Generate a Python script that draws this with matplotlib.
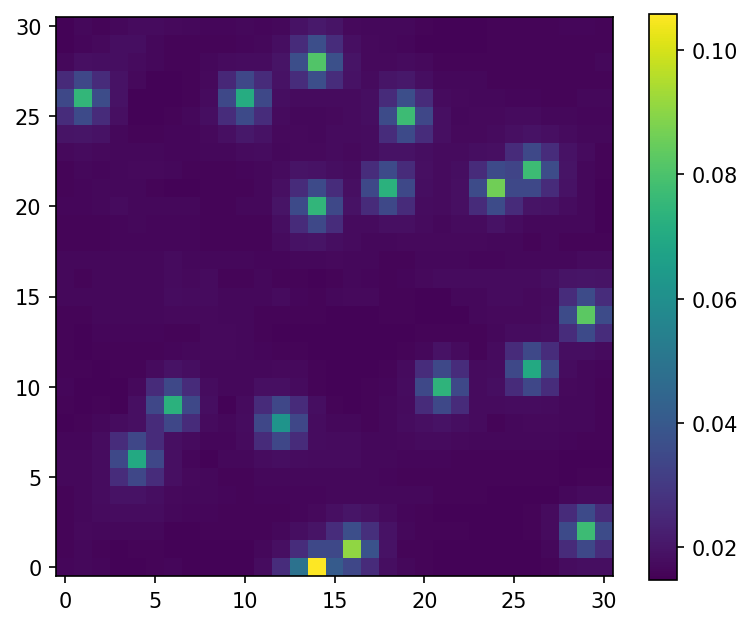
import numpy as np
import matplotlib
matplotlib.use('Agg')
import matplotlib.pyplot as plt

# cell values in units of 1e-4, first row is y=30, last row is y=0
rows = [
    [155,165,160,168,175,175,170,165,162,162,165,162,168,190,210,195,170,165,165,165,160,155,155,155,158,158,158,160,162,162,158],
    [155,162,170,180,180,165,158,158,158,160,162,165,182,258,365,262,185,170,165,162,156,155,155,155,158,158,158,158,160,160,158],
    [165,185,182,182,175,165,158,158,165,175,178,178,195,365,810,370,195,170,170,172,170,160,158,158,158,158,158,158,158,160,165],
    [255,340,258,190,170,156,155,160,170,250,340,258,190,262,365,262,190,175,200,205,180,168,168,165,158,158,158,158,158,158,158],
    [345,750,360,190,156,156,155,160,175,345,710,345,180,175,175,172,172,180,258,365,258,175,170,165,165,162,162,160,160,165,165],
    [262,350,258,185,156,155,158,165,180,262,350,262,175,165,165,170,172,180,355,770,340,185,168,170,170,172,172,165,165,162,162],
    [195,200,190,165,158,158,162,162,170,185,205,190,170,170,165,172,172,178,262,350,262,185,170,170,175,185,190,185,172,165,165],
    [170,172,170,165,165,165,162,162,165,165,175,178,168,170,170,172,170,178,190,190,180,172,172,180,185,258,345,262,190,172,158],
    [160,165,162,165,170,170,165,158,158,158,162,168,175,195,190,180,178,262,350,258,185,175,180,258,350,335,770,360,195,168,158],
    [160,162,165,165,165,160,156,156,158,158,158,165,185,258,350,262,185,345,730,345,180,175,185,355,860,345,345,258,190,165,156],
    [162,162,168,172,165,165,165,165,160,160,165,168,195,350,745,345,190,258,345,258,178,172,185,258,355,258,195,190,178,165,156],
    [160,160,160,162,168,162,162,162,160,160,160,160,180,258,345,262,175,175,185,185,172,165,172,175,190,178,168,165,165,165,156],
    [160,160,160,162,162,162,162,162,160,160,160,158,175,190,195,180,175,165,165,170,170,170,170,170,165,165,160,165,160,160,160],
    [165,165,165,165,165,165,175,165,165,165,165,162,162,165,165,170,165,165,158,158,165,168,165,162,162,165,165,168,168,172,172],
    [165,158,165,165,165,165,172,170,172,158,158,165,160,158,156,160,165,162,158,162,170,172,172,172,172,172,172,182,195,200,195],
    [165,165,168,168,168,168,178,175,175,165,165,168,172,162,158,165,170,170,160,158,156,156,165,168,172,172,170,172,262,355,262],
    [158,158,165,165,165,165,170,170,170,165,165,160,160,160,158,156,156,156,158,158,156,156,156,165,170,170,170,178,355,830,355],
    [160,156,162,162,162,162,158,160,170,170,165,158,156,156,156,156,156,156,156,156,158,158,160,158,165,178,178,180,262,350,262],
    [158,156,160,160,160,160,162,165,170,170,165,162,158,158,156,156,156,156,156,158,165,190,175,160,172,258,345,262,180,180,175],
    [160,160,156,160,160,175,190,182,168,168,168,168,170,170,158,156,156,156,158,175,262,345,262,172,178,345,700,340,178,165,162],
    [162,156,155,155,170,258,345,258,178,168,168,185,185,172,160,156,156,158,162,178,345,740,345,175,182,258,340,262,170,165,160],
    [158,156,158,156,185,340,730,345,182,156,175,258,340,258,180,158,156,158,168,172,258,345,258,172,172,178,178,172,168,165,160],
    [156,160,168,178,185,258,340,258,175,168,178,340,620,340,178,168,165,160,168,178,185,190,180,172,160,168,170,170,165,165,160],
    [162,162,178,262,340,258,185,175,162,162,172,258,340,258,178,175,172,168,168,170,172,172,170,165,165,168,168,165,162,160,160],
    [165,165,178,345,700,340,185,162,156,165,165,178,182,178,172,172,172,168,165,162,162,162,160,160,160,160,160,158,156,156,156],
    [165,165,178,262,340,262,185,170,165,160,160,165,165,165,165,165,165,165,162,160,160,160,160,160,160,160,160,158,156,158,158],
    [160,168,178,190,190,182,170,165,165,162,160,162,162,162,162,165,165,165,165,168,165,160,160,158,156,156,156,156,165,172,175],
    [160,165,175,178,178,178,165,162,162,160,158,160,160,162,170,185,200,188,172,162,160,156,156,156,156,156,158,172,258,350,258],
    [160,170,165,165,165,165,156,156,158,160,158,160,165,180,195,262,365,270,190,165,160,158,158,156,156,156,158,172,350,770,355],
    [160,165,160,156,158,160,156,156,156,156,156,165,185,262,345,345,905,375,190,160,158,156,156,156,156,156,156,165,260,345,262],
    [162,165,162,156,156,158,162,156,156,156,156,178,262,490,1058,410,340,258,180,168,158,156,156,156,156,156,156,160,178,182,182],
]

vmin = 0.0147
vmax = 0.1058

data = np.array(rows)[::-1] * 1e-4

fig = plt.figure(figsize=(753 / 150, 626 / 150), dpi=150)
ax = fig.add_axes([56 / 753, 1 - 577 / 626, 557 / 753, 559 / 626])
im = ax.imshow(data, cmap='viridis', origin='lower', vmin=vmin, vmax=vmax, aspect='auto')
ax.set_xticks([0, 5, 10, 15, 20, 25, 30])
ax.set_yticks([0, 5, 10, 15, 20, 25, 30])

cax = fig.add_axes([649 / 753, 1 - 581 / 626, 28 / 753, 566 / 626])
cbar = fig.colorbar(im, cax=cax)
cbar.set_ticks([0.02, 0.04, 0.06, 0.08, 0.10])

plt.savefig('out.png', dpi=150)
